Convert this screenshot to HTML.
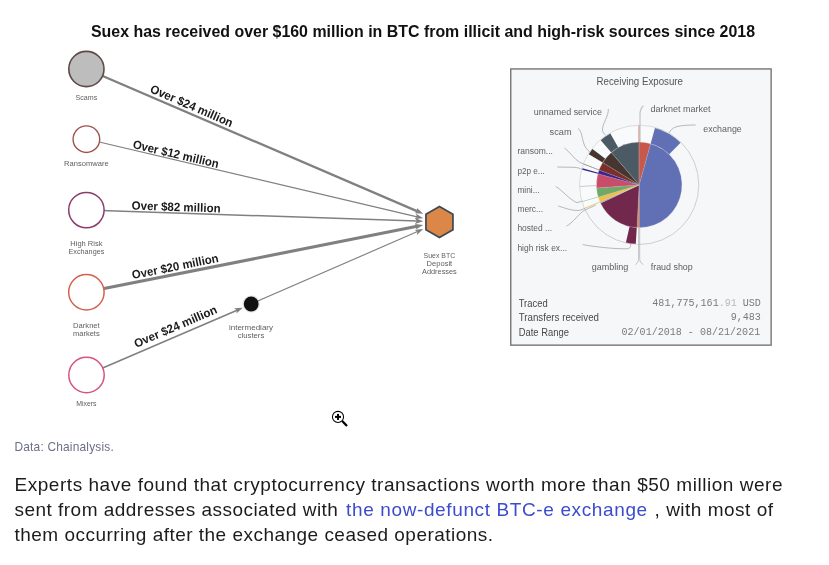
<!DOCTYPE html>
<html><head><meta charset="utf-8">
<style>
html,body{margin:0;padding:0;background:#fff;}
body{width:829px;height:565px;overflow:hidden;position:relative;font-family:"Liberation Sans",sans-serif;}
svg{position:absolute;left:0;top:0;}
.cap{position:absolute;left:14.5px;top:440.3px;font-size:11.9px;line-height:14px;color:#6c6f88;white-space:nowrap;letter-spacing:0.204px;}
.ln{position:absolute;font-size:19px;line-height:24px;color:#1c1c1c;white-space:nowrap;}
a.ln{color:#3c4ccd;text-decoration:none;}
#l1{left:14.5px;top:473.4px;letter-spacing:0.537px;}
#l2a{left:14.5px;top:498.2px;letter-spacing:0.474px;}
#l2b{left:346.1px;top:498.2px;letter-spacing:0.621px;}
#l2c{left:654.6px;top:498.2px;letter-spacing:0.498px;}
#l3{left:14.5px;top:523.0px;letter-spacing:0.479px;}
</style></head><body>
<svg width="829" height="430" viewBox="0 0 829 430" font-family="Liberation Sans, sans-serif">
<defs>
<marker id="ah" markerWidth="9" markerHeight="6" refX="2" refY="3" orient="auto" markerUnits="userSpaceOnUse"><path d="M0,0.1 L8.2,3 L0,5.9 L1.8,3 Z" fill="#808080"/></marker>
</defs>
<text x="423" y="37" text-anchor="middle" font-size="15.6" font-weight="bold" fill="#111" textLength="664" lengthAdjust="spacingAndGlyphs">Suex has received over $160 million in BTC from illicit and high-risk sources since 2018</text>

<!-- flow lines -->
<g stroke="#808080" fill="none" stroke-linecap="butt">
<line x1="86.4" y1="69" x2="417.50" y2="211.35" stroke-width="2.3" marker-end="url(#ah)"/>
<line x1="86.4" y1="139" x2="417.16" y2="216.78" stroke-width="1.25" marker-end="url(#ah)"/>
<line x1="86.4" y1="210" x2="417.00" y2="221.09" stroke-width="1.5" marker-end="url(#ah)"/>
<line x1="86.4" y1="292" x2="417.12" y2="226.31" stroke-width="3.1" marker-end="url(#ah)"/>
<line x1="86.4" y1="375" x2="237.10" y2="310.15" stroke-width="1.6" marker-end="url(#ah)"/>
<line x1="251" y1="304" x2="417.51" y2="231.57" stroke-width="1.15" marker-end="url(#ah)"/>
</g>
<!-- nodes -->
<circle cx="86.4" cy="69" r="17.6" fill="#BDBDBD" stroke="#5E4A47" stroke-width="1.6"/>
<circle cx="86.4" cy="139.2" r="13.3" fill="#fff" stroke="#A0524B" stroke-width="1.4"/>
<circle cx="86.4" cy="210.1" r="17.7" fill="#fff" stroke="#8C3D6D" stroke-width="1.5"/>
<circle cx="86.4" cy="292.2" r="17.7" fill="#fff" stroke="#D4604F" stroke-width="1.5"/>
<circle cx="86.5" cy="375" r="17.7" fill="#fff" stroke="#D5557A" stroke-width="1.5"/>
<circle cx="251.2" cy="304" r="8.6" fill="#000" fill-opacity="0.12"/>
<circle cx="251.2" cy="304" r="7.4" fill="#111"/>
<polygon points="439.45,206.40 452.96,214.20 452.96,229.80 439.45,237.60 425.94,229.80 425.94,214.20" fill="#DB8748" stroke="#3C4954" stroke-width="1.7" stroke-linejoin="miter"/>

<!-- node labels -->
<g font-size="8" fill="#5e5e5e">
<text x="75.60" y="100.1" textLength="21.6" lengthAdjust="spacingAndGlyphs">Scams</text>
<text x="64.10" y="166" textLength="44.6" lengthAdjust="spacingAndGlyphs">Ransomware</text>
<text x="70.30" y="245.5" textLength="32.2" lengthAdjust="spacingAndGlyphs">High Risk</text>
<text x="68.45" y="253.8" textLength="35.9" lengthAdjust="spacingAndGlyphs">Exchanges</text>
<text x="73.10" y="327.5" textLength="26.6" lengthAdjust="spacingAndGlyphs">Darknet</text>
<text x="73.10" y="336" textLength="26.6" lengthAdjust="spacingAndGlyphs">markets</text>
<text x="76.25" y="406" textLength="20.3" lengthAdjust="spacingAndGlyphs">Mixers</text>
<text x="228.95" y="330.4" textLength="44.1" lengthAdjust="spacingAndGlyphs">intermediary</text>
<text x="237.70" y="338.2" textLength="26.6" lengthAdjust="spacingAndGlyphs">clusters</text>
<text x="423.60" y="257.8" textLength="31.6" lengthAdjust="spacingAndGlyphs">Suex BTC</text>
<text x="426.60" y="266.1" textLength="25.6" lengthAdjust="spacingAndGlyphs">Deposit</text>
<text x="422.05" y="274.3" textLength="34.7" lengthAdjust="spacingAndGlyphs">Addresses</text>
</g>

<!-- flow labels -->
<g font-size="12" font-weight="bold" fill="#1a1a1a" text-anchor="middle">
<text transform="translate(190,109.6) rotate(23.4)" textLength="89" lengthAdjust="spacingAndGlyphs">Over $24 million</text>
<text transform="translate(175,158) rotate(13.1)" textLength="88" lengthAdjust="spacingAndGlyphs">Over $12 million</text>
<text transform="translate(176,211) rotate(1.9)" textLength="89" lengthAdjust="spacingAndGlyphs">Over $82 million</text>
<text transform="translate(176,270.5) rotate(-11.3)" textLength="88" lengthAdjust="spacingAndGlyphs">Over $20 million</text>
<text transform="translate(177,330.3) rotate(-23.3)" textLength="89" lengthAdjust="spacingAndGlyphs">Over $24 million</text>
</g>

<!-- magnifier cursor -->
<g>
<circle cx="338" cy="416.9" r="5.55" fill="#fff" stroke="#000" stroke-width="1.05"/>
<rect x="335" y="415.9" width="6" height="2" fill="#000"/>
<rect x="337" y="413.9" width="2" height="6" fill="#000"/>
<line x1="342.2" y1="421" x2="347" y2="426" stroke="#000" stroke-width="2.3"/>
</g>

<!-- panel -->
<rect x="510.75" y="68.95" width="260.4" height="276.2" fill="#F5F7F9" stroke="#767676" stroke-width="1.4"/>
<text x="596.6" y="85" font-size="10" fill="#555" textLength="86.4" lengthAdjust="spacingAndGlyphs">Receiving Exposure</text>
<circle cx="639.2" cy="184.9" r="59.6" fill="none" stroke="#c9c9c9" stroke-width="0.9"/>
<path d="M600.41,202.99 L584.91,210.21 A59.9,59.9 0 0 1 655.21,127.18 L650.64,143.66 A42.8,42.8 0 0 0 600.41,202.99 Z" fill="#FFFFFF" fill-opacity="0.35"/>
<path d="M638.98,227.70 L638.89,244.80 A59.9,59.9 0 0 1 635.75,244.70 L636.74,227.63 A42.8,42.8 0 0 0 638.98,227.70 Z" fill="#FFFFFF" fill-opacity="0.35"/>
<path d="M639.20,184.90 L639.20,142.10 A42.8,42.8 0 0 1 650.64,143.66 Z" fill="#C7584B"/>
<path d="M639.20,184.90 L650.64,143.66 A42.8,42.8 0 0 1 639.20,227.70 Z" fill="#6170B5"/>
<path d="M639.20,184.90 L639.20,227.70 A42.8,42.8 0 0 1 636.96,227.64 Z" fill="#DF8450"/>
<path d="M639.20,184.90 L636.96,227.64 A42.8,42.8 0 0 1 600.57,203.33 Z" fill="#72274D"/>
<path d="M639.20,184.90 L600.57,203.33 A42.8,42.8 0 0 1 600.04,202.17 Z" fill="#7C9CC4"/>
<path d="M639.20,184.90 L600.04,202.17 A42.8,42.8 0 0 1 598.18,197.13 Z" fill="#F0BE4E"/>
<path d="M639.20,184.90 L598.18,197.13 A42.8,42.8 0 0 1 596.51,188.03 Z" fill="#72A867"/>
<path d="M639.20,184.90 L596.51,188.03 A42.8,42.8 0 0 1 597.86,173.82 Z" fill="#C94D6B"/>
<path d="M639.20,184.90 L597.86,173.82 A42.8,42.8 0 0 1 599.03,170.12 Z" fill="#3B2191"/>
<path d="M639.20,184.90 L599.03,170.12 A42.8,42.8 0 0 1 602.67,162.60 Z" fill="#7B2F28"/>
<path d="M639.20,184.90 L602.67,162.60 A42.8,42.8 0 0 1 611.29,152.45 Z" fill="#47362F"/>
<path d="M639.20,184.90 L611.29,152.45 A42.8,42.8 0 0 1 639.20,142.10 Z" fill="#4B5A65"/>
<path d="M650.64,143.66 L654.97,128.05 A59.0,59.0 0 0 1 680.55,142.82 L669.20,154.37 A42.8,42.8 0 0 0 650.64,143.66 Z" fill="#6170B5"/>
<path d="M636.74,227.63 L635.80,243.80 A59.0,59.0 0 0 1 625.93,242.39 L629.57,226.60 A42.8,42.8 0 0 0 636.74,227.63 Z" fill="#72274D"/>
<path d="M600.04,202.17 L585.22,208.71 A59.0,59.0 0 0 1 584.81,207.76 L599.74,201.49 A42.8,42.8 0 0 0 600.04,202.17 Z" fill="#E8C67A"/>
<path d="M598.18,197.13 L582.66,201.76 A59.0,59.0 0 0 1 582.49,201.16 L598.06,196.70 A42.8,42.8 0 0 0 598.18,197.13 Z" fill="#9DB596"/>
<path d="M597.86,173.82 L582.21,169.63 A59.0,59.0 0 0 1 582.63,168.14 L598.16,172.74 A42.8,42.8 0 0 0 597.86,173.82 Z" fill="#3B2191"/>
<path d="M599.03,170.12 L583.83,164.53 A59.0,59.0 0 0 1 584.05,163.95 L599.19,169.70 A42.8,42.8 0 0 0 599.03,170.12 Z" fill="#8C6A63"/>
<path d="M602.67,162.60 L588.84,154.16 A59.0,59.0 0 0 1 592.45,148.90 L605.29,158.79 A42.8,42.8 0 0 0 602.67,162.60 Z" fill="#47362F"/>
<path d="M611.29,152.45 L600.73,140.17 A59.0,59.0 0 0 1 610.33,133.45 L618.25,147.58 A42.8,42.8 0 0 0 611.29,152.45 Z" fill="#4B5A65"/>
<line x1="639.20" y1="184.90" x2="639.20" y2="142.10" stroke="#d8d8d8" stroke-opacity="0.55" stroke-width="0.4"/>
<line x1="639.20" y1="184.90" x2="650.64" y2="143.66" stroke="#d8d8d8" stroke-opacity="0.55" stroke-width="0.4"/>
<line x1="639.20" y1="184.90" x2="639.20" y2="227.70" stroke="#d8d8d8" stroke-opacity="0.55" stroke-width="0.4"/>
<line x1="639.20" y1="184.90" x2="636.96" y2="227.64" stroke="#d8d8d8" stroke-opacity="0.55" stroke-width="0.4"/>
<line x1="639.20" y1="184.90" x2="600.57" y2="203.33" stroke="#d8d8d8" stroke-opacity="0.55" stroke-width="0.4"/>
<line x1="639.20" y1="184.90" x2="600.04" y2="202.17" stroke="#d8d8d8" stroke-opacity="0.55" stroke-width="0.4"/>
<line x1="639.20" y1="184.90" x2="598.18" y2="197.13" stroke="#d8d8d8" stroke-opacity="0.55" stroke-width="0.4"/>
<line x1="639.20" y1="184.90" x2="596.51" y2="188.03" stroke="#d8d8d8" stroke-opacity="0.55" stroke-width="0.4"/>
<line x1="639.20" y1="184.90" x2="597.86" y2="173.82" stroke="#d8d8d8" stroke-opacity="0.55" stroke-width="0.4"/>
<line x1="639.20" y1="184.90" x2="599.03" y2="170.12" stroke="#d8d8d8" stroke-opacity="0.55" stroke-width="0.4"/>
<line x1="639.20" y1="184.90" x2="602.67" y2="162.60" stroke="#d8d8d8" stroke-opacity="0.55" stroke-width="0.4"/>
<line x1="639.20" y1="184.90" x2="611.29" y2="152.45" stroke="#d8d8d8" stroke-opacity="0.55" stroke-width="0.4"/>
<circle cx="639.2" cy="184.9" r="42.8" fill="none" stroke="#fff" stroke-opacity="0.35" stroke-width="0.6"/>

<!-- leaders -->
<g fill="none" stroke="#9c9c9c" stroke-width="0.7">
<path d="M608.3,109 C609,116 602,124 602.5,130 C602.7,132 604,134 605.4,135"/>
<path d="M578,128.5 C582,131 582,139 584,144 C585,147 587,150 589.5,151.5"/>
<path d="M564.5,148 C570,152 574,159 580,162.5 L599,170"/>
<path d="M557.3,167 L574,167.3 C578,167.5 580,168.5 582.5,169.4"/>
<path d="M555.8,186.5 C562,190 570,200 577,202.7 L582.5,201"/>
<path d="M558.3,206 C565,208 572,211 579,210.5 L585,208.5"/>
<path d="M566.5,226 C573,223 579,213 585,210 L596,205"/>
<path d="M582.6,244.6 C595,246.8 612,248.8 626,248.8 C629.5,248.8 630.6,248 630.7,244"/>
<path d="M635.3,264.6 C637.8,263 638.6,261.2 638.6,258.5 L638.6,228" stroke="#aeaeae"/>
<path d="M643.3,264.6 C640.6,263 639.7,261.2 639.7,258.5 L639.7,228" stroke="#aeaeae"/>
<path d="M643.4,105.7 C640.8,108 640,110 640,114.5 L640,142" stroke="#c4c4c4" stroke-width="1.2"/>
<path d="M695.7,125 C688,125 682,125.5 678,126.3 C673,127.5 670.5,130 669,133"/>
<path d="M579.7,186.5 L596.5,185.5" stroke="#b5b5b5"/>
</g>
<line x1="638.9" y1="125.5" x2="638.9" y2="185" stroke="#b8685c" stroke-width="0.7"/>
<!-- pie labels -->
<g font-size="9.2" fill="#5e5e5e" lengthAdjust="spacingAndGlyphs">
<text x="533.8" y="114.9" textLength="68.2" lengthAdjust="spacingAndGlyphs">unnamed service</text>
<text x="549.6" y="134.8" textLength="22" lengthAdjust="spacingAndGlyphs">scam</text>
<text x="517.4" y="154.1" textLength="35.5" lengthAdjust="spacingAndGlyphs">ransom...</text>
<text x="517.4" y="173.8" textLength="27.3" lengthAdjust="spacingAndGlyphs">p2p e...</text>
<text x="517.4" y="192.7" textLength="22.3" lengthAdjust="spacingAndGlyphs">mini...</text>
<text x="517.4" y="212.2" textLength="25.7" lengthAdjust="spacingAndGlyphs">merc...</text>
<text x="517.4" y="231.3" textLength="34.7" lengthAdjust="spacingAndGlyphs">hosted ...</text>
<text x="517.4" y="250.7" textLength="49.7" lengthAdjust="spacingAndGlyphs">high risk ex...</text>
<text x="591.7" y="270.2" textLength="36.6" lengthAdjust="spacingAndGlyphs">gambling</text>
<text x="650.7" y="270.2" textLength="42.1" lengthAdjust="spacingAndGlyphs">fraud shop</text>
<text x="650.6" y="111.85" textLength="60" lengthAdjust="spacingAndGlyphs">darknet market</text>
<text x="703.3" y="131.5" textLength="38.5" lengthAdjust="spacingAndGlyphs">exchange</text>
</g>
<g font-size="10.4" fill="#484848">
<text x="518.7" y="306.5" textLength="29" lengthAdjust="spacingAndGlyphs">Traced</text>
<text x="518.7" y="321.4" textLength="80.3" lengthAdjust="spacingAndGlyphs">Transfers received</text>
<text x="518.7" y="335.9" textLength="50.2" lengthAdjust="spacingAndGlyphs">Date Range</text>
</g>
<g font-size="10.05" fill="#7a7a7a" text-anchor="end" font-family="Liberation Mono, monospace">
<text x="760.9" y="305.7">481,775,161<tspan fill="#b8b8b8">.91</tspan> USD</text>
<text x="760.9" y="320.2">9,483</text>
<text x="760.2" y="334.8">02/01/2018 - 08/21/2021</text>
</g>
</svg>
<div class="cap" id="cap">Data: Chainalysis.</div>
<div class="ln" id="l1">Experts have found that cryptocurrency transactions worth more than $50 million were</div>
<div class="ln" id="l2a">sent from addresses associated with</div>
<a class="ln" id="l2b">the now-defunct BTC-e exchange</a>
<div class="ln" id="l2c">, with most of</div>
<div class="ln" id="l3">them occurring after the exchange ceased operations.</div>
</body></html>
